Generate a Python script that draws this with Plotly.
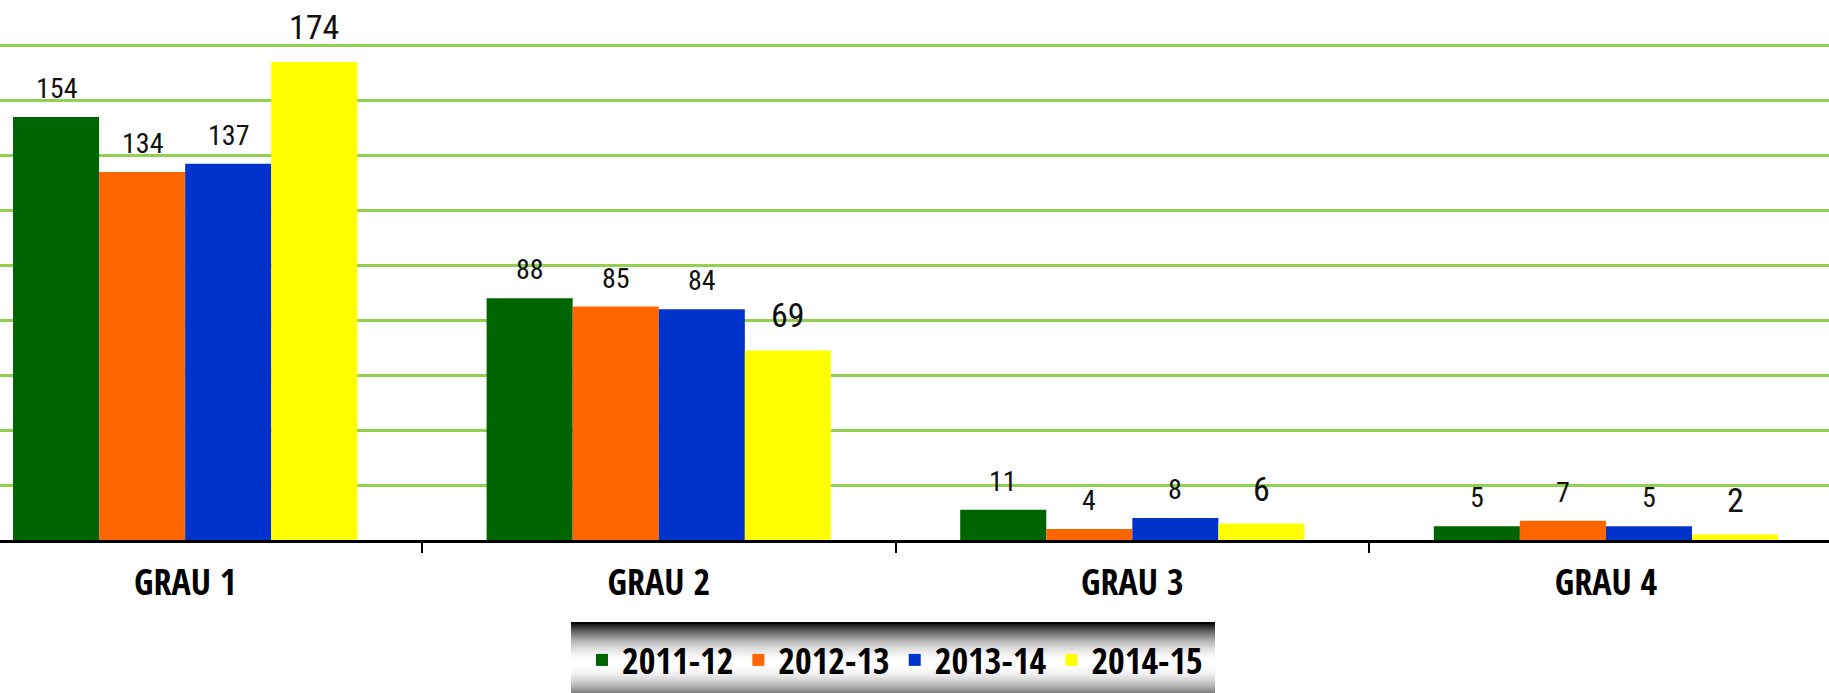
import plotly.graph_objects as go

categories = ["GRAU 1", "GRAU 2", "GRAU 3", "GRAU 4"]
series_names = ["2011-12", "2012-13", "2013-14", "2014-15"]
v_2011_12 = [154, 88, 11, 5]
v_2012_13 = [134, 85, 4, 7]
v_2013_14 = [137, 84, 8, 5]
v_2014_15 = [174, 69, 6, 2]
series_values = [v_2011_12, v_2012_13, v_2013_14, v_2014_15]
colors = ["#006400", "#ff6600", "#0033cc", "#ffff00"]

W, H = 1829, 693
PLOT_BOTTOM = 540  # pixel of y=0
BARGAP = 0.273
FONT_REG = "Roboto Condensed, Open Sans Condensed, sans-serif"
FONT_BOLD = "Open Sans Condensed, Roboto Condensed, sans-serif"

fig = go.Figure()
for name, vals, col in zip(series_names, series_values, colors):
    fig.add_trace(go.Bar(
        x=categories, y=vals, name=name,
        marker=dict(color=col, line=dict(width=0)),
    ))

# value labels placed on the axes at each bar's position
n = len(series_names)
w = (1 - BARGAP) / n
annotations = []
for i, vals in enumerate(series_values):
    big = (i == n - 1)
    for j, v in enumerate(vals):
        annotations.append(dict(
            x=j + (i - (n - 1) / 2) * w, y=v, xref="x", yref="y",
            text=str(v), showarrow=False, yanchor="bottom",
            yshift=13 if big else 10,
            font=dict(family=FONT_REG, size=34 if big else 28, color="#111111",
                      weight=400),
        ))

# gradient background for the legend box
shapes = []
box_x0, box_x1 = 571, 1215
box_top, box_center = 622, 663
half = box_center - box_top
def py(p):
    return (PLOT_BOTTOM - p) / PLOT_BOTTOM
for p in range(box_top, box_center + half + 1):
    t = min(abs(p - box_center) / half, 1.0)
    g = int(round(255 * (1 - t ** 2)))
    if p - box_top < 2:
        g = 0
    shapes.append(dict(
        type="rect", xref="paper", yref="paper",
        x0=box_x0 / W, x1=box_x1 / W, y0=py(p + 1), y1=py(p),
        fillcolor=f"rgb({g},{g},{g})", line=dict(width=0), layer="below",
    ))

fig.update_layout(
    width=W, height=H, autosize=False,
    margin=dict(l=0, r=0, t=0, b=H - PLOT_BOTTOM, pad=0),
    paper_bgcolor="white", plot_bgcolor="white",
    barmode="group", bargap=BARGAP, bargroupgap=0,
    showlegend=True,
    legend=dict(
        orientation="h", x=582 / W, xanchor="left",
        y=py(660), yanchor="middle",
        bgcolor="rgba(0,0,0,0)",
        font=dict(family=FONT_BOLD, size=36, color="black", weight="bold"),
        itemclick=False,
    ),
    annotations=annotations,
    shapes=shapes,
    xaxis=dict(
        type="category", range=[-0.391, 3.471],
        tickson="boundaries", ticks="outside", ticklen=10, tickwidth=2,
        tickcolor="black", showline=True, linecolor="black", linewidth=3,
        showgrid=False, ticklabelstandoff=9,
        tickfont=dict(family=FONT_BOLD, size=36, color="black", weight="bold"),
    ),
    yaxis=dict(
        range=[0, 196.6], dtick=20, showgrid=True, gridcolor="#92d050",
        gridwidth=2.5, showticklabels=False, zeroline=False, ticks="",
        showline=False,
    ),
)

fig.write_html(
    "out.html",
    config={"displayModeBar": False},
    post_script="document.body.style.margin='0';document.body.style.overflow='hidden';",
)
